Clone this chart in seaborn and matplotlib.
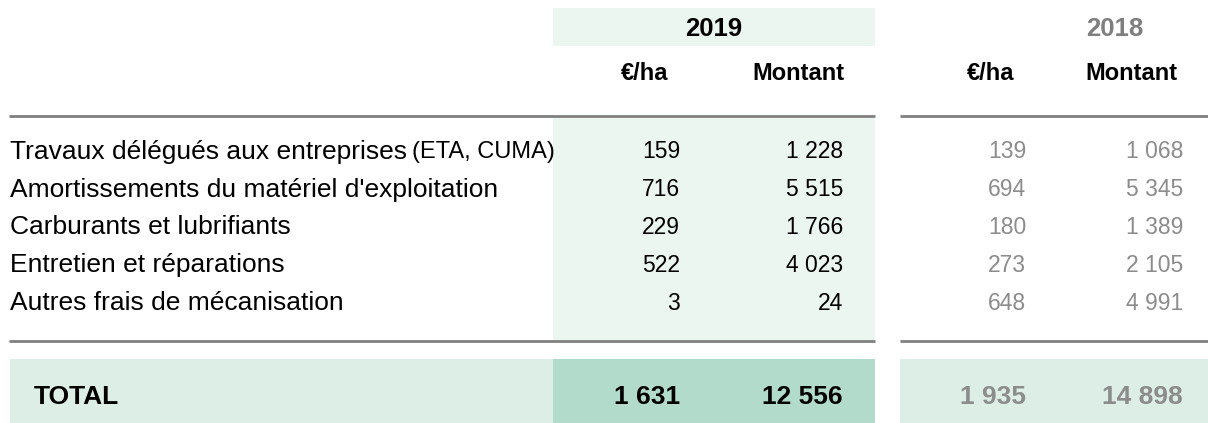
import matplotlib
matplotlib.use("Agg")
import matplotlib.pyplot as plt
import seaborn as sns

# ---- data ----
labels = ["Travaux délégués aux entreprises", "Amortissements du matériel d'exploitation",
          "Carburants et lubrifiants", "Entretien et réparations", "Autres frais de mécanisation"]
label_suffix = ["(ETA, CUMA)", "", "", "", ""]
ha_2019 = [159, 716, 229, 522, 3]
montant_2019 = [1228, 5515, 1766, 4023, 24]
ha_2018 = [139, 694, 180, 273, 648]
montant_2018 = [1068, 5345, 1389, 2105, 4991]
total_2019 = [1631, 12556]
total_2018 = [1935, 14898]
years = ["2019", "2018"]
col_headers = ["€/ha", "Montant"]
total_label = "TOTAL"

sns.set_theme(style="white")
plt.rcParams["font.family"] = ["Liberation Sans", "DejaVu Sans"]


def fmt(v):
    return f"{v:,}".replace(",", " ")


W, H = 1208, 423
fig = plt.figure(figsize=(W / 100, H / 100), dpi=100)
ax = fig.add_axes([0, 0, 1, 1])
ax.set_xlim(0, W)
ax.set_ylim(H, 0)
ax.axis("off")

LIGHT = "#ecf6f1"
TOT_LIGHT = "#ddeee6"
TOT_DARK = "#b3dbcc"
GREY_LINE = "#808080"
GREY_TXT = "#8c8c8c"

# backgrounds
ax.add_patch(plt.Rectangle((553, 8), 322, 38, color=LIGHT, lw=0))
ax.add_patch(plt.Rectangle((553, 118), 322, 224, color=LIGHT, lw=0))
ax.add_patch(plt.Rectangle((10, 359), 543, 64, color=TOT_LIGHT, lw=0))
ax.add_patch(plt.Rectangle((553, 359), 322, 64, color=TOT_DARK, lw=0))
ax.add_patch(plt.Rectangle((900, 359), 308, 64, color=TOT_LIGHT, lw=0))

# lines
for y in (116, 341):
    ax.plot([9, 875], [y, y], color=GREY_LINE, lw=2, solid_capstyle="butt")
    ax.plot([900, 1208], [y, y], color=GREY_LINE, lw=2, solid_capstyle="butt")

NUM = 16.5
# headers
ax.text(714, 29, years[0], ha="center", va="center", fontsize=18.5, fontweight="bold", color="#000000")
ax.text(1115, 29, years[1], ha="center", va="center", fontsize=18.5, fontweight="bold", color="#7f7f7f")
for xc, txt in zip((645, 798, 991, 1131), col_headers * 2):
    ax.text(xc, 73, txt, ha="center", va="center", fontsize=17, fontweight="bold", color="#000000")

# rows
row_y = [152, 190, 227, 265, 303]
for i, y in enumerate(row_y):
    t = ax.text(10, y, labels[i], ha="left", va="center", fontsize=19, color="#000000")
    if label_suffix[i]:
        fig.canvas.draw()
        bb = t.get_window_extent()
        ax.text(bb.x1 + 5, y, label_suffix[i], ha="left", va="center", fontsize=17, color="#000000")
    ax.text(680, y, fmt(ha_2019[i]), ha="right", va="center", fontsize=NUM, color="#000000")
    ax.text(843, y, fmt(montant_2019[i]), ha="right", va="center", fontsize=NUM, color="#000000")
    ax.text(1026, y, fmt(ha_2018[i]), ha="right", va="center", fontsize=NUM, color=GREY_TXT)
    ax.text(1183, y, fmt(montant_2018[i]), ha="right", va="center", fontsize=NUM, color=GREY_TXT)

# total
ty = 397
TS = 19
ax.text(34, ty, total_label, ha="left", va="center", fontsize=TS, fontweight="bold", color="#000000")
ax.text(680, ty, fmt(total_2019[0]), ha="right", va="center", fontsize=TS, fontweight="bold", color="#000000")
ax.text(843, ty, fmt(total_2019[1]), ha="right", va="center", fontsize=TS, fontweight="bold", color="#000000")
ax.text(1026, ty, fmt(total_2018[0]), ha="right", va="center", fontsize=TS, fontweight="bold", color=GREY_TXT)
ax.text(1183, ty, fmt(total_2018[1]), ha="right", va="center", fontsize=TS, fontweight="bold", color=GREY_TXT)

fig.savefig("out.png", dpi=100)
